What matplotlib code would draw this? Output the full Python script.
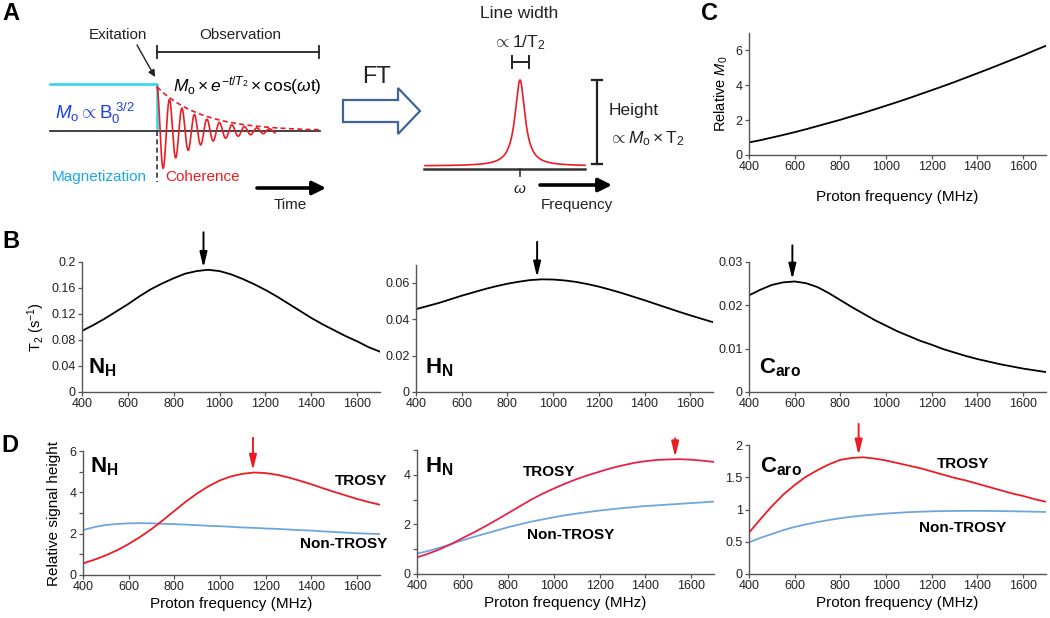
import numpy as np
import matplotlib.pyplot as plt
from matplotlib.patches import Polygon

plt.rcParams['font.family'] = ['Liberation Sans', 'DejaVu Sans']
plt.rcParams['mathtext.fontset'] = 'custom'
plt.rcParams['mathtext.rm'] = 'Liberation Sans'
plt.rcParams['mathtext.it'] = 'Liberation Sans:italic'
plt.rcParams['mathtext.bf'] = 'Liberation Sans:bold'

# proton frequency (MHz)
freq = [400, 450, 500, 550, 600, 650, 700, 750, 800, 850, 900, 950, 1000, 1050,
        1100, 1150, 1200, 1250, 1300, 1350, 1400, 1450, 1500, 1550, 1600, 1650, 1700]

# C - relative M0
m0 = [0.72, 0.85, 1.00, 1.15, 1.31, 1.48, 1.66, 1.84, 2.02, 2.22, 2.41, 2.62, 2.83, 3.04,
      3.26, 3.49, 3.72, 3.95, 4.19, 4.44, 4.69, 4.94, 5.20, 5.46, 5.72, 6.00, 6.27]

# B - T2
t2_nh = [0.094, 0.103, 0.113, 0.124, 0.135, 0.147, 0.158, 0.167, 0.175, 0.182, 0.186, 0.188, 0.186, 0.181,
         0.174, 0.166, 0.157, 0.147, 0.136, 0.125, 0.114, 0.104, 0.095, 0.086, 0.078, 0.069, 0.062]
t2_hn = [0.0456, 0.0473, 0.0490, 0.0510, 0.0530, 0.0548, 0.0566, 0.0582, 0.0596, 0.0607, 0.0616, 0.0620, 0.0619, 0.0614,
         0.0606, 0.0594, 0.0580, 0.0563, 0.0545, 0.0525, 0.0505, 0.0484, 0.0463, 0.0442, 0.0422, 0.0403, 0.0384]
t2_caro = [0.0223, 0.0236, 0.0247, 0.0253, 0.0255, 0.0251, 0.0242, 0.0228, 0.0212, 0.0196, 0.0181, 0.0166, 0.0153, 0.0140,
           0.0129, 0.0118, 0.0109, 0.0099, 0.0091, 0.0083, 0.0076, 0.0070, 0.0064, 0.0059, 0.0054, 0.0050, 0.0046]
t2_peaks = [930, 930, 590]

# D - relative signal height
trosy_nh = [0.56, 0.74, 0.95, 1.20, 1.50, 1.84, 2.22, 2.65, 3.10, 3.55, 3.95, 4.30, 4.58, 4.78,
            4.90, 4.96, 4.93, 4.85, 4.72, 4.56, 4.39, 4.20, 4.02, 3.85, 3.68, 3.53, 3.40]
non_nh = [2.17, 2.32, 2.42, 2.47, 2.50, 2.51, 2.50, 2.48, 2.46, 2.44, 2.41, 2.38, 2.36, 2.33,
          2.30, 2.28, 2.25, 2.23, 2.20, 2.17, 2.15, 2.11, 2.08, 2.05, 2.02, 2.00, 1.98]
trosy_hn = [0.67, 0.82, 1.00, 1.21, 1.45, 1.68, 1.93, 2.19, 2.46, 2.73, 3.00, 3.24, 3.45, 3.65,
            3.83, 3.99, 4.13, 4.27, 4.38, 4.48, 4.55, 4.60, 4.62, 4.63, 4.61, 4.57, 4.52]
non_hn = [0.82, 0.93, 1.06, 1.21, 1.36, 1.50, 1.63, 1.76, 1.89, 2.00, 2.11, 2.20, 2.29, 2.37,
          2.44, 2.50, 2.56, 2.61, 2.66, 2.70, 2.74, 2.77, 2.80, 2.83, 2.86, 2.89, 2.92]
trosy_caro = [0.64, 0.85, 1.05, 1.23, 1.38, 1.51, 1.61, 1.70, 1.77, 1.80, 1.81, 1.79, 1.76, 1.72,
              1.68, 1.64, 1.59, 1.54, 1.49, 1.45, 1.40, 1.35, 1.30, 1.25, 1.21, 1.16, 1.12]
non_caro = [0.49, 0.56, 0.62, 0.68, 0.73, 0.77, 0.805, 0.837, 0.865, 0.888, 0.907, 0.923, 0.937, 0.949,
            0.959, 0.966, 0.972, 0.976, 0.978, 0.979, 0.979, 0.978, 0.976, 0.973, 0.970, 0.966, 0.962]
trosy_peaks = [1144, 1530, 880]

xticks = [400, 600, 800, 1000, 1200, 1400, 1600]

RED = '#ec1c24'
RED2 = '#e6224c'
BLUE = '#6fa6dc'
SPINE = '#555555'


def style(ax, ylim, yticks, ylabels):
    ax.set_xlim(400, 1700)
    ax.set_ylim(*ylim)
    ax.set_xticks(xticks)
    ax.set_yticks(yticks)
    ax.set_yticklabels(ylabels)
    for s in ['top', 'right']:
        ax.spines[s].set_visible(False)
    for s in ['left', 'bottom']:
        ax.spines[s].set_color(SPINE)
        ax.spines[s].set_linewidth(1.0)
    ax.tick_params(direction='out', length=3, width=0.9, color=SPINE,
                   labelsize=9, pad=1.5, labelcolor='#222222')
    ax.patch.set_visible(False)


def arrow(ax, x, y, length, color):
    ax.annotate('', xy=(x, y), xytext=(0, length), textcoords='offset points',
                arrowprops=dict(arrowstyle='-|>,head_length=0.7,head_width=0.17', color=color, lw=1.4,
                                mutation_scale=13, shrinkA=0, shrinkB=1.5),
                annotation_clip=False)


def tag(ax, x, y, label):
    ax.text(x, y, label, transform=ax.transAxes, fontsize=16, va='baseline', ha='left')


fig = plt.figure(figsize=(10.5, 6.18), dpi=100)

# Panel C
axc = fig.add_axes([0.7133, 0.7492, 0.2829, 0.1974])
axc.plot(freq, m0, color='k', lw=1.3)
style(axc, (0, 7), [0, 2, 4, 6], ['0', '2', '4', '6'])
axc.set_ylabel(r'Relative $M_0$', fontsize=10.5, labelpad=4)
axc.set_xlabel('Proton frequency (MHz)', fontsize=11, labelpad=12)

# Panel B
axb1 = fig.add_axes([0.0781, 0.3657, 0.2838, 0.2104])
axb1.plot(freq, t2_nh, color='k', lw=1.3)
style(axb1, (0, 0.2), [0, 0.04, 0.08, 0.12, 0.16, 0.2],
      ['0', '0.04', '0.08', '0.12', '0.16', '0.2'])
axb1.set_ylabel(r'T$_2$ (s$^{-1}$)', fontsize=10.5, labelpad=3)
arrow(axb1, t2_peaks[0], max(t2_nh), 27, 'k')
tag(axb1, 0.02, 0.146, r'$\mathbf{N_H}$')

axb2 = fig.add_axes([0.3962, 0.3657, 0.2829, 0.2058])
axb2.plot(freq, t2_hn, color='k', lw=1.3)
style(axb2, (0, 0.07), [0, 0.02, 0.04, 0.06], ['0', '0.02', '0.04', '0.06'])
arrow(axb2, t2_peaks[1], max(t2_hn), 27, 'k')
tag(axb2, 0.03, 0.148, r'$\mathbf{H_N}$')

axb3 = fig.add_axes([0.7133, 0.3657, 0.2829, 0.2104])
axb3.plot(freq, t2_caro, color='k', lw=1.3)
style(axb3, (0, 0.03), [0, 0.01, 0.02, 0.03], ['0', '0.01', '0.02', '0.03'])
arrow(axb3, t2_peaks[2], max(t2_caro), 26, 'k')
tag(axb3, 0.034, 0.146, r'$\mathbf{C_{aro}}$')

# Panel D
axd1 = fig.add_axes([0.0790, 0.0696, 0.2829, 0.2006])
axd1.plot(freq, non_nh, color=BLUE, lw=1.3)
axd1.plot(freq, trosy_nh, color=RED, lw=1.3)
style(axd1, (0, 6), [0, 1, 2, 3, 4, 5, 6], ['0', '', '2', '', '4', '', '6'])
axd1.set_ylabel('Relative signal height', fontsize=11, labelpad=6)
axd1.set_xlabel('Proton frequency (MHz)', fontsize=11, labelpad=3)
arrow(axd1, trosy_peaks[0], max(trosy_nh), 25, RED)
tag(axd1, 0.024, 0.83, r'$\mathbf{N_H}$')
axd1.text(1617, 4.55, 'TROSY', fontsize=11, fontweight='bold', ha='center', va='center')
axd1.text(1540, 1.50, 'Non-TROSY', fontsize=11, fontweight='bold', ha='center', va='center')

axd2 = fig.add_axes([0.3971, 0.0712, 0.2829, 0.2006])
axd2.plot(freq, non_hn, color=BLUE, lw=1.3)
axd2.plot(freq, trosy_hn, color=RED2, lw=1.3)
style(axd2, (0, 5), [0, 1, 2, 3, 4, 5], ['0', '', '2', '', '4', ''])
axd2.set_xlabel('Proton frequency (MHz)', fontsize=11, labelpad=3)
arrow(axd2, trosy_peaks[1], max(trosy_hn), 15, RED)
tag(axd2, 0.027, 0.82, r'$\mathbf{H_N}$')
axd2.text(978, 4.11, 'TROSY', fontsize=11, fontweight='bold', ha='center', va='center')
axd2.text(1074, 1.57, 'Non-TROSY', fontsize=11, fontweight='bold', ha='center', va='center')

axd3 = fig.add_axes([0.7133, 0.0712, 0.2829, 0.2087])
axd3.plot(freq, non_caro, color=BLUE, lw=1.3)
axd3.plot(freq, trosy_caro, color=RED, lw=1.3)
style(axd3, (0, 2), [0, 0.5, 1, 1.5, 2], ['0', '0.5', '1', '1.5', '2'])
axd3.set_xlabel('Proton frequency (MHz)', fontsize=11, labelpad=3)
arrow(axd3, trosy_peaks[2], max(trosy_caro), 24, RED)
tag(axd3, 0.037, 0.79, r'$\mathbf{C_{aro}}$')
axd3.text(1337, 1.70, 'TROSY', fontsize=11, fontweight='bold', ha='center', va='center')
axd3.text(1337, 0.71, 'Non-TROSY', fontsize=11, fontweight='bold', ha='center', va='center')

# Panel A schematic + panel letters, drawn in pixel units
ax = fig.add_axes([0, 0, 1, 1])
ax.set_xlim(0, 1050)
ax.set_ylim(618, 0)
ax.axis('off')
ax.patch.set_visible(False)

for letter, x, y in [('A', 2, 14), ('B', 2, 241), ('C', 701, 14), ('D', 1, 446)]:
    ax.text(x, y, letter, fontsize=17, fontweight='bold', va='center', ha='left')

# magnetization / coherence
ax.plot([50, 157, 157], [84, 84, 128], color='#2bd4ec', lw=1.8)
ax.plot([50, 320], [131, 131], color='#333333', lw=1.3)
ax.plot([157, 157], [131, 182], color='#333333', lw=1.2, ls=(0, (3, 2)))
t = np.linspace(0, 118, 600)
ax.plot(157 + t, 131 - 44 * np.exp(-t / 38) * np.cos(2 * np.pi * t / 12.5), color=RED, lw=1.2)
te = np.linspace(0, 163, 200)
ax.plot(157 + te, 131 - 44 * np.exp(-te / 45), color=RED, lw=1.2, ls=(0, (3, 2)))

ax.text(118, 35, 'Exitation', fontsize=11, ha='center', va='center', color='#222222')
ax.annotate('', xy=(155, 77), xytext=(137, 45),
            arrowprops=dict(arrowstyle='-|>', color='#222222', lw=1.0, mutation_scale=10, shrinkA=0, shrinkB=0))
ax.text(240, 35, 'Observation', fontsize=11, ha='center', va='center', color='#222222')
ax.plot([157, 319], [52, 52], color='#222222', lw=1.3)
ax.plot([157, 157], [46, 58], color='#222222', lw=1.3)
ax.plot([319, 319], [46, 58], color='#222222', lw=1.3)
ax.text(173, 86, r'$M_{\rm o}\times e^{-t/T_2}\times{\rm cos(}\omega{\rm t)}$', fontsize=12.5, ha='left', va='center')
ax.text(55, 113, r'$M_{\rm o}\propto{\rm B}_0^{\ 3/2}$', fontsize=13.5, ha='left', va='center', color='#1e3ee6')
ax.text(52, 177, 'Magnetization', fontsize=11, ha='left', va='center', color='#1aa7ee')
ax.text(165, 177, 'Coherence', fontsize=11, ha='left', va='center', color=RED)
ax.annotate('', xy=(326, 188), xytext=(257, 188),
            arrowprops=dict(arrowstyle='-|>', color='k', lw=2.6, mutation_scale=20, shrinkA=0, shrinkB=0))
ax.text(290, 205, 'Time', fontsize=11, ha='center', va='center', color='#222222')

# FT arrow
ax.text(377, 77, 'FT', fontsize=17, ha='center', va='center', color='#222222')
ax.add_patch(Polygon([(343, 100), (398, 100), (398, 88), (420, 111), (398, 134), (398, 122), (343, 122)],
                     closed=True, fill=False, edgecolor='#3d6596', lw=1.6))

# spectrum
ax.plot([424, 585], [169, 169], color='#333333', lw=1.8)
ax.plot([520, 520], [169, 176], color='#333333', lw=1.2)
w = np.linspace(-95, 65, 800)
ax.plot(520 + w, 166 - 86 / (1 + (w / 6.0) ** 2), color=RED, lw=1.2)
ax.text(520, 189, r'$\omega$', fontsize=11, ha='center', va='center', color='#222222')
ax.annotate('', xy=(612, 185), xytext=(540, 185),
            arrowprops=dict(arrowstyle='-|>', color='k', lw=2.6, mutation_scale=20, shrinkA=0, shrinkB=0))
ax.text(577, 205, 'Frequency', fontsize=11, ha='center', va='center', color='#222222')

ax.text(519, 14, 'Line width', fontsize=12.5, ha='center', va='center', color='#222222')
ax.text(519, 43, r'$\propto$1/T$_2$', fontsize=12.5, ha='center', va='center', color='#222222')
ax.plot([512, 529], [62, 62], color='#222222', lw=1.4)
ax.plot([512, 512], [56, 68], color='#222222', lw=1.4)
ax.plot([529, 529], [56, 68], color='#222222', lw=1.4)

ax.plot([597, 597], [80, 164], color='#222222', lw=1.6)
ax.plot([592, 602], [80, 80], color='#222222', lw=1.6)
ax.plot([592, 602], [164, 164], color='#222222', lw=1.6)
ax.text(609, 111, 'Height', fontsize=12.5, ha='left', va='center', color='#222222')
ax.text(609, 139, r'$\propto M_{\rm o}\times{\rm T}_2$', fontsize=12.5, ha='left', va='center', color='#222222')

fig.savefig('out.png', dpi=100)
